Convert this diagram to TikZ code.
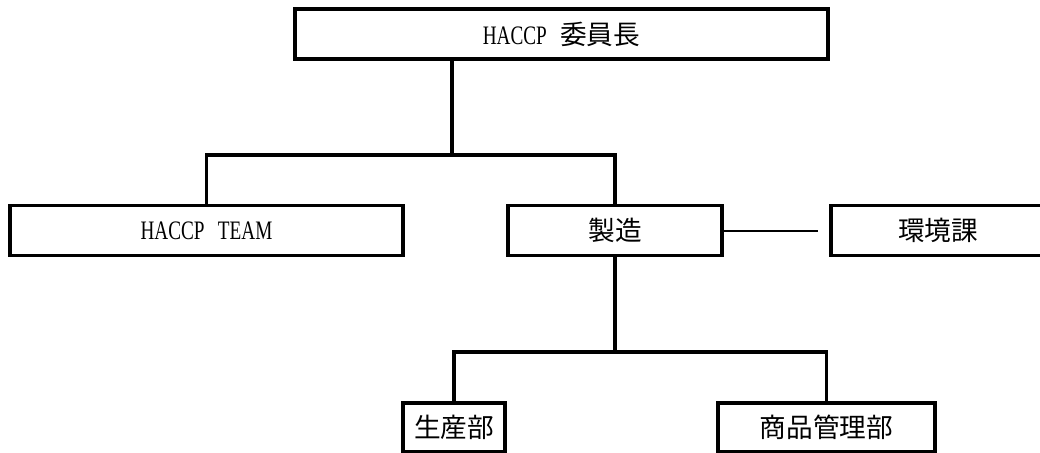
\documentclass[tikz,border=0pt]{standalone}
\usepackage{fontspec}
\setmainfont[FakeStretch=0.72]{Liberation Serif}
\newfontfamily\cjk{Noto Sans CJK JP}

\begin{document}
\begin{tikzpicture}
  [x=0.75pt,y=-0.75pt,line width=2.4pt,
   every node/.style={rectangle,draw,line width=2.4pt,inner sep=0pt,
     minimum height=37.5pt,font=\fontsize{20pt}{24pt}\selectfont}]
  \useasboundingbox (0,0) rectangle (1040,453);
  \node[minimum width=399.75pt] (chair) at (561.5,34) {HACCP\hspace{10pt}{\cjk 委員長}};
  % second row
  \node[minimum width=294.75pt] (team) at (206.5,230.5) {HACCP\hspace{10pt}TEAM};
  \node[minimum width=160.5pt] (mfg) at (615,230.5) {\cjk 製造};
  \node[minimum width=160.5pt] (env) at (938,230.5) {\cjk 環境課};
  % bottom row
  \node[minimum width=76.5pt,minimum height=36.75pt] (prod) at (454,427.5) {\cjk 生産部};
  \node[minimum width=162.75pt,minimum height=36.75pt] (goods) at (826.5,427.5) {\cjk 商品管理部};

  \coordinate (bus1) at (452,155);
  \coordinate (bus2) at (615,352);
  \coordinate (envend) at (818,230.5);

  \draw (chair.south -| bus1) -- (bus1);
  \draw (team.north) |- (bus1) -| (mfg.north);
  \draw (mfg.south) -- (bus2);
  \draw (prod.north) |- (bus2) -| (goods.north);
  \draw[line width=1.5pt] (mfg.east) -- (envend);
\end{tikzpicture}
\end{document}
